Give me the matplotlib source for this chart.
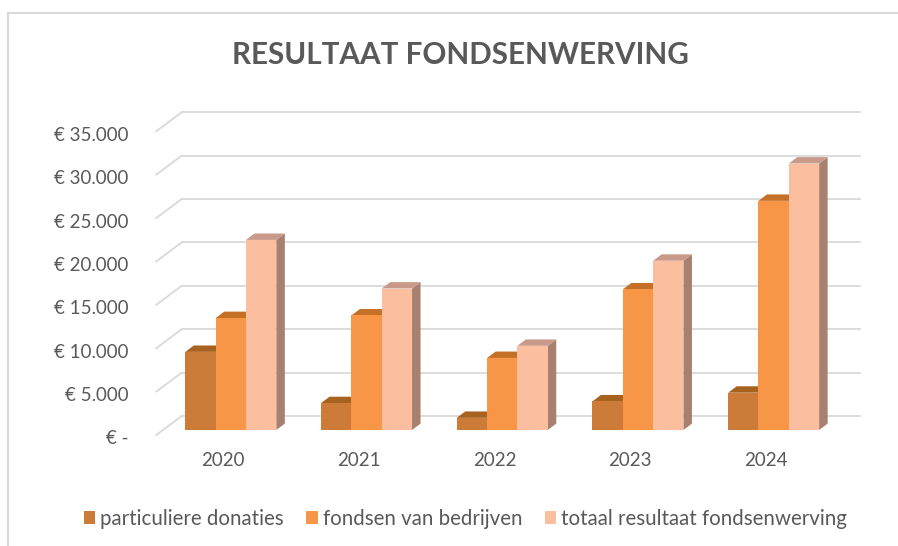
import matplotlib.pyplot as plt
import matplotlib.transforms as mtransforms
from matplotlib.patches import Polygon
from matplotlib.lines import Line2D

years = ['2020', '2021', '2022', '2023', '2024']
particuliere = [9000, 3100, 1400, 3300, 4300]
bedrijven = [12900, 13200, 8300, 16200, 26400]
totaal = [21900, 16300, 9700, 19500, 30700]
series_names = ['particuliere donaties', 'fondsen van bedrijven',
                'totaal resultaat fondsenwerving']
y_ticks = [0, 5000, 10000, 15000, 20000, 25000, 30000, 35000]
y_labels = ['€ -', '€ 5.000', '€ 10.000', '€ 15.000', '€ 20.000',
            '€ 25.000', '€ 30.000', '€ 35.000']

front_c = ['#CD7B39', '#F79646', '#FBBE9E']
top_c = ['#A8621F', '#C66F27', '#C99A8A']
side_c = ['#9C5A22', '#B8692A', '#A88070']
text_c = '#595959'
grid_c = '#D9D9D9'

plt.rcParams['font.family'] = ['Lato', 'DejaVu Sans']

W, H = 898, 546
fig = plt.figure(figsize=(W / 100, H / 100), dpi=100)
ax_w, ax_h = 678.5, 303.8
ax = fig.add_axes([163 / W, 116 / H, ax_w / W, ax_h / H])
ax.set_xlim(-0.5, 4.5)
ax.set_ylim(0, 35000)
for s in ax.spines.values():
    s.set_visible(False)
ax.patch.set_alpha(0)

# pixel -> data helpers (fake 3d depth)
px_x = ax_w / 5
px_y = ax_h / 35000


def dx(p):
    return p / px_x


def dy(p):
    return p / px_y


# back wall gridlines + floor/side diagonals
for v in y_ticks:
    ax.plot([-0.5 + dx(18.7), 4.5 + dx(18.7)], [v + dy(14), v + dy(14)],
            color=grid_c, lw=1.3, clip_on=False, zorder=0)
    ax.plot([-0.5 - dx(6.7), -0.5 + dx(18.7)], [v - dy(5), v + dy(14)],
            color=grid_c, lw=1.3, clip_on=False, zorder=0)

# bars
w = 0.2235
offs = [-w, 0, w]
bdx, bdy = dx(8.5), dy(6.4)
handles = []
for j, vals in enumerate([particuliere, bedrijven, totaal]):
    xs = [i + offs[j] for i in range(len(years))]
    bars = ax.bar(xs, vals, width=w, color=front_c[j], label=series_names[j],
                  zorder=4 + 2 * j, clip_on=False)
    handles.append(bars)
    for x, v in zip(xs, vals):
        xl, xr = x - w / 2, x + w / 2
        side = Polygon([(xr, 0), (xr + bdx, bdy), (xr + bdx, v + bdy), (xr, v)],
                       closed=True, facecolor=side_c[j], edgecolor='none',
                       zorder=3 + 2 * j, clip_on=False)
        top = Polygon([(xl, v), (xl + bdx, v + bdy), (xr + bdx, v + bdy), (xr, v)],
                      closed=True, facecolor=top_c[j], edgecolor='none',
                      zorder=3 + 2 * j, clip_on=False)
        ax.add_patch(side)
        ax.add_patch(top)

ax.set_xticks(range(len(years)), years)
ax.set_yticks(y_ticks, y_labels)
ax.tick_params(axis='both', length=0, labelsize=13.5, labelcolor=text_c)
ax.tick_params(axis='x', pad=15.5)
ax.tick_params(axis='y', pad=25)
for lab in ax.get_xticklabels():
    lab.set_transform(lab.get_transform() +
                      mtransforms.ScaledTranslation(-0.077, 0, fig.dpi_scale_trans))
for lab in ax.get_yticklabels():
    lab.set_transform(lab.get_transform() +
                      mtransforms.ScaledTranslation(0, -0.075, fig.dpi_scale_trans))

fig.text(460 / W, 1 - 64 / H, 'RESULTAAT FONDSENWERVING', ha='center',
         va='baseline', fontsize=21.3, fontweight='bold', color=text_c)

fig.legend(handles, series_names, loc='center', bbox_to_anchor=(465.5 / W, 1 - 519 / H),
           ncol=3, frameon=False, fontsize=14.8, handlelength=0.55, handleheight=0.6,
           handletextpad=0.25, columnspacing=1.1, labelcolor=text_c)

# chart area border (left and top only visible)
fig.add_artist(Line2D([8 / W, 8 / W], [0, 1 - 13 / H], color=grid_c, lw=1.5,
                      transform=fig.transFigure))
fig.add_artist(Line2D([8 / W, 1], [1 - 13 / H, 1 - 13 / H], color=grid_c, lw=1.5,
                      transform=fig.transFigure))

fig.savefig('out.png', dpi=100)
